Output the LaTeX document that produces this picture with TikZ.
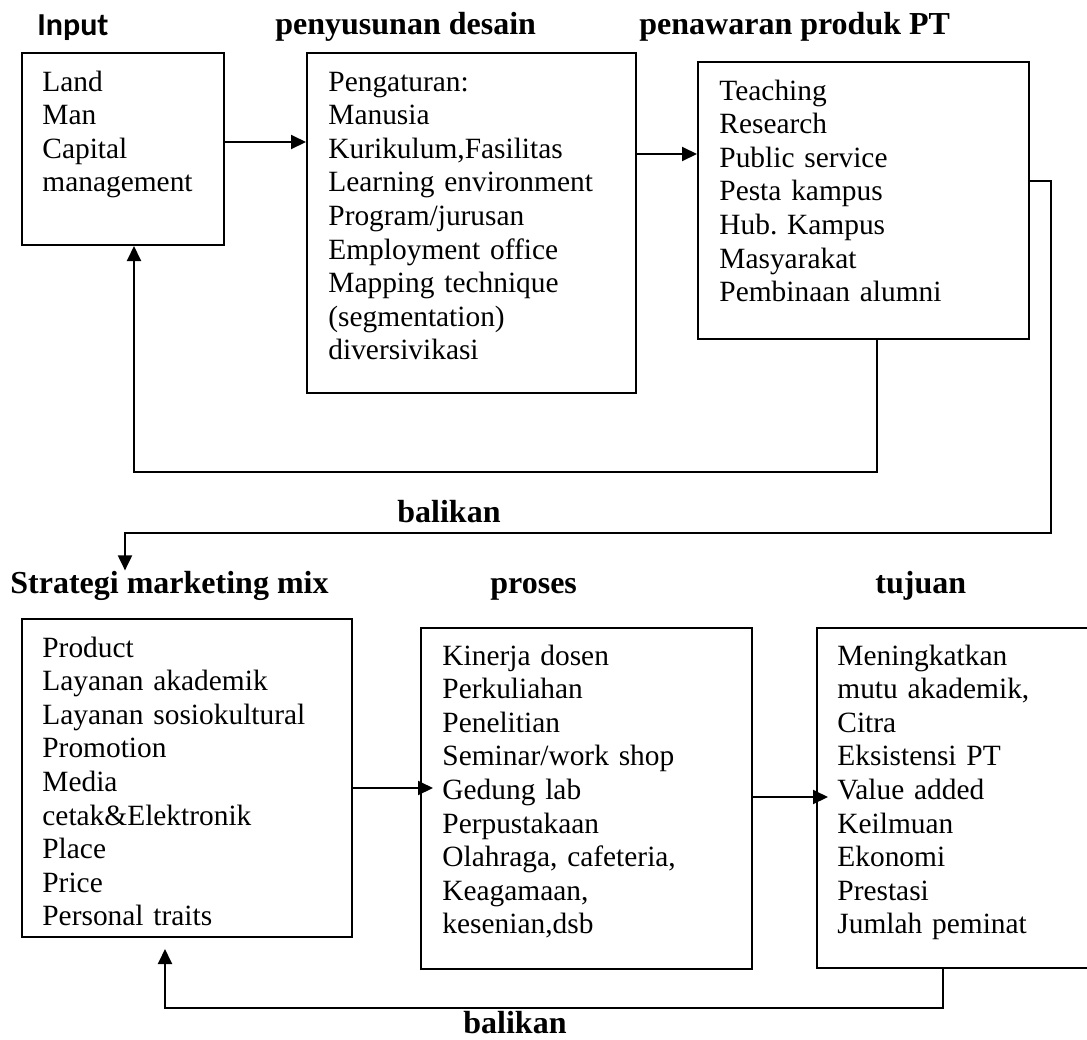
\documentclass[tikz,border=0pt]{standalone}
\usepackage{fontspec}
\setmainfont{Liberation Serif}
\newfontfamily\calibri{Carlito}
\frenchspacing
\usetikzlibrary{arrows.meta, fit, positioning}
\tikzset{
  kotak/.style={rectangle, draw=black, line width=1pt, inner sep=0pt},
  isi/.style={anchor=base west, align=left, text width=140pt,
              inner xsep=4.5pt, inner ysep=0pt,
              font=\fontsize{14.7}{16.8}\selectfont},
  judul/.style={anchor=base west, inner sep=0pt,
                font=\fontsize{16}{19}\selectfont\bfseries},
}

\begin{document}
\begin{tikzpicture}[x=0.5pt, y=-0.5pt,
  panah/.style={draw=black, line width=1pt, -{Triangle[length=7.5pt, width=7pt]}},
  garis/.style={draw=black, line width=1pt}
]
  \useasboundingbox (0,0) rectangle (1087,1039);

  % baris atas
  \node[judul, font=\calibri\fontsize{16}{19}\selectfont\bfseries] (hInput) at (37,35) {Input};
  \node[judul] (hDesain) at (275,34) {penyusunan desain};
  \node[judul] (hTawar) at (639,34) {penawaran produk PT};

  \node[kotak, fit={(22,53) (224,245)}] (input) {};
  \node[kotak, fit={(307,53) (636,393)}] (desain) {};
  \node[kotak, fit={(698,62) (1029,339)}] (tawar) {};

  \node[isi] (inputTxt) at (33,91) {Land\\Man\\Capital\\management};
  \node[isi] (desainTxt) at (319,91)
    {Pengaturan:\\Manusia\\Kurikulum,Fasilitas\\Learning environment\\Program/jurusan\\Employment office\\Mapping technique\\(segmentation)\\diversivikasi};
  \node[isi] (tawarTxt) at (710,100)
    {Teaching\\Research\\Public service\\Pesta kampus\\Hub. Kampus\\Masyarakat\\Pembinaan alumni};

  % baris bawah
  \node[judul] (hStrategi) at (10,593) {Strategi marketing mix};
  \node[judul] (hProses) at (490,593) {proses};
  \node[judul] (hTujuan) at (875,593) {tujuan};

  \node[kotak, fit={(22,619) (352,937)}] (strategi) {};
  \node[kotak, fit={(421,628) (752,969)}] (proses) {};
  \node[kotak, fit={(817,628) (1092,968)}] (tujuan) {};

  \node[isi] (strategiTxt) at (33,657)
    {Product\\Layanan akademik\\Layanan sosiokultural\\Promotion\\Media\\cetak\&Elektronik\\Place\\Price\\Personal traits};
  \node[isi] (prosesTxt) at (433,665)
    {Kinerja dosen\\Perkuliahan\\Penelitian\\Seminar/work shop\\Gedung lab\\Perpustakaan\\Olahraga, cafeteria,\\Keagamaan,\\kesenian,dsb};
  \node[isi] (tujuanTxt) at (828,665)
    {Meningkatkan\\mutu akademik,\\Citra\\Eksistensi PT\\Value added\\Keilmuan\\Ekonomi\\Prestasi\\Jumlah peminat};

  \node[judul] (balik1) at (397,522) {balikan};
  \node[judul] (balik2) at (463,1033) {balikan};

  % alur
  \coordinate (b1) at (134,472);
  \coordinate (b2) at (1051,533);
  \coordinate (b3) at (165,1008);

  \draw[panah] (input.east |- 0,142) -- (desain.west |- 0,142);
  \draw[panah] (desain.east |- 0,154) -- (tawar.west |- 0,154);
  \draw[panah] (tawar.south -| 877,0) |- (b1) -- (input.south -| b1);
  \draw[panah] (tawar.east |- 0,181) -| (b2) -| (hStrategi.north -| 125,0);

  \draw[panah] (strategi.east |- 0,788) -- (prosesTxt.west |- 0,788);
  \draw[panah] (proses.east |- 0,797) -- (tujuanTxt.west |- 0,797);
  \draw[panah, shorten >=5.5pt] (tujuan.south -| 943,0) |- (b3) -- (strategi.south -| b3);
\end{tikzpicture}
\end{document}
